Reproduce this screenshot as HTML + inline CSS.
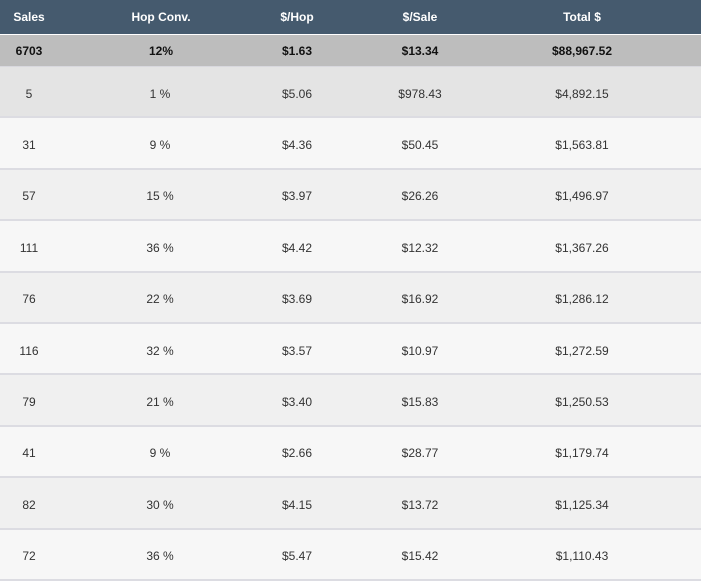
<!DOCTYPE html>
<html><head><style>
body{margin:0;width:703px;height:580px;background:#fff;font-family:"Liberation Sans",sans-serif;font-size:12px;position:relative;overflow:hidden}
.r{position:absolute;left:0;width:701px}
.c{position:absolute;width:200px;text-align:center;top:50%;transform:translateY(-50%)}
.d .c{top:calc(50% + 2px)}
.h{background:#455a6e;color:#fff;font-weight:bold;top:0;height:34px}
.s{background:#bdbdbd;color:#111;font-weight:bold;top:35px;height:31px;border-bottom:1px solid #d8d8de}
.d{color:#333;border-bottom:2px solid #dcdce2}
</style></head><body>
<div class="r h"><span class="c" style="left:-71px">Sales</span><span class="c" style="left:61px">Hop Conv.</span><span class="c" style="left:197px">$/Hop</span><span class="c" style="left:320px">$/Sale</span><span class="c" style="left:482px">Total $</span></div>
<div class="r s"><span class="c" style="left:-71px">6703</span><span class="c" style="left:61px">12%</span><span class="c" style="left:197px">$1.63</span><span class="c" style="left:320px">$13.34</span><span class="c" style="left:482px">$88,967.52</span></div>
<div id="rows"></div>
<script>
var d=[["5","1 %","$5.06","$978.43","$4,892.15"],["31","9 %","$4.36","$50.45","$1,563.81"],["57","15 %","$3.97","$26.26","$1,496.97"],["111","36 %","$4.42","$12.32","$1,367.26"],["76","22 %","$3.69","$16.92","$1,286.12"],["116","32 %","$3.57","$10.97","$1,272.59"],["79","21 %","$3.40","$15.83","$1,250.53"],["41","9 %","$2.66","$28.77","$1,179.74"],["82","30 %","$4.15","$13.72","$1,125.34"],["72","36 %","$5.47","$15.42","$1,110.43"]];
var L=[-71,60,197,320,482],h="";
for(var i=0;i<d.length;i++){var t=67+i*51.4;var bg=i==0?"#e4e4e4":(i%2?"#f7f7f7":"#f0f0f0");
h+='<div class="r d" style="top:'+t+'px;height:49.4px;background:'+bg+'">';
for(var j=0;j<5;j++)h+='<span class="c" style="left:'+L[j]+'px">'+d[i][j]+'</span>';h+='</div>';}
document.getElementById("rows").innerHTML=h;
</script>
</body></html>
